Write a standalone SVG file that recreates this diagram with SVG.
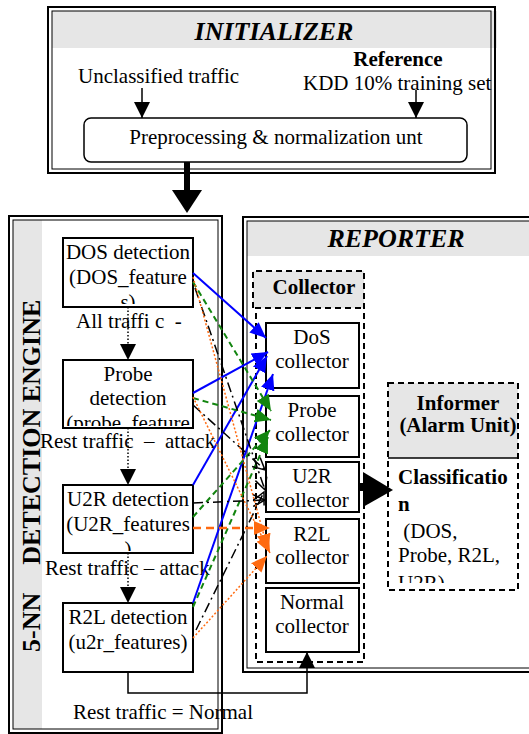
<svg xmlns="http://www.w3.org/2000/svg" width="529" height="734" viewBox="0 0 529 734">
  <style>
    text { font-family: "Liberation Serif", "Times New Roman", serif; fill: #000; }
    .t { font-size: 21px; }
    .tc { font-size: 21px; text-anchor: middle; }
    .b { font-weight: bold; }
    .title { font-size: 26px; font-weight: bold; font-style: italic; text-anchor: middle; }
    .frameO { fill: none; stroke: #000; stroke-width: 2; }
    .frameI { fill: none; stroke: #000; stroke-width: 1; }
    .band { fill: #e6e6e6; stroke: none; }
    .box { fill: #fff; stroke: #000; stroke-width: 2; }
    .dash { fill: none; stroke: #000; stroke-width: 2; stroke-dasharray: 6 4; }
    .flow { fill: none; stroke: #000; stroke-width: 1.5; stroke-dasharray: 1.5 2; }
    .solid { fill: none; stroke: #000; stroke-width: 1.5; }
    .blue { fill: none; stroke: #0000ff; stroke-width: 2; }
    .green { fill: none; stroke: #12850f; stroke-width: 2; stroke-dasharray: 6 4; }
    .dd { fill: none; stroke: #000; stroke-width: 1.5; stroke-dasharray: 10 4 2 4; }
    .orange { fill: none; stroke: #ff6a10; stroke-width: 1.5; stroke-dasharray: 2 2; }
    .orangeD { fill: none; stroke: #ff6a10; stroke-width: 2.5; stroke-dasharray: 8 5; }
  </style>
  <defs>
    <marker id="hBlack" markerUnits="userSpaceOnUse" markerWidth="16" markerHeight="16" refX="16" refY="8" orient="auto">
      <path d="M0,0 L16,8 L0,16 Z" fill="#000"/>
    </marker>
    <marker id="hBlue" markerUnits="userSpaceOnUse" markerWidth="16" markerHeight="16" refX="16" refY="8" orient="auto">
      <path d="M0,1 L16,8 L0,15 Z" fill="#0000ff"/>
    </marker>
    <marker id="hGreen" markerUnits="userSpaceOnUse" markerWidth="16" markerHeight="16" refX="16" refY="8" orient="auto">
      <path d="M0,1 L16,8 L0,15 Z" fill="#12850f"/>
    </marker>
    <marker id="hOrange" markerUnits="userSpaceOnUse" markerWidth="16" markerHeight="16" refX="16" refY="8" orient="auto">
      <path d="M0,1 L16,8 L0,15 Z" fill="#ff6a10"/>
    </marker>
    <marker id="hOpen" markerUnits="userSpaceOnUse" markerWidth="14" markerHeight="14" refX="13" refY="7" orient="auto">
      <path d="M1,1 L13,7 L1,13" fill="none" stroke="#000" stroke-width="1.5"/>
    </marker>
    <clipPath id="cDos"><rect x="63" y="238" width="130" height="66"/></clipPath>
    <clipPath id="cProbe"><rect x="63" y="360" width="130" height="66"/></clipPath>
    <clipPath id="cU2r"><rect x="63" y="485" width="130" height="66"/></clipPath>
    <clipPath id="cClass"><rect x="388" y="458" width="130" height="125"/></clipPath>
  </defs>

  <!-- initializer stage -->
  <g id="initializer">
    <rect class="band" x="52" y="11" width="445" height="37"/>
    <rect class="frameO" x="48" y="7" width="447" height="166"/>
    <rect class="frameI" x="52" y="11" width="439" height="158"/>
    <text class="title" x="274" y="40">INITIALIZER</text>
    <text class="t b" x="398" y="66" text-anchor="middle">Reference</text>
    <text class="t" x="78" y="83">Unclassified traffic</text>
    <text class="t" x="303" y="90">KDD 10% training set</text>
  </g>

  <g id="preprocessing">
    <rect x="84" y="118" width="383" height="44" rx="7" fill="#fff" stroke="#000" stroke-width="1.5"/>
    <text class="tc" x="276" y="144">Preprocessing &amp; normalization unt</text>
  </g>

  <!-- detection engine -->
  <g id="engine">
    <rect fill="#fff" x="13" y="220" width="205" height="509"/>
    <rect class="band" x="13" y="220" width="29" height="509"/>
    <rect class="frameO" x="9" y="216" width="213" height="517"/>
    <rect class="frameI" x="13" y="220" width="205" height="509"/>
    <text class="b" font-size="26" transform="translate(40,652) rotate(-90)">5-NN<tspan dx="28">DETECTION ENGINE</tspan></text>
  </g>

  <g id="dos-detection">
    <rect class="box" x="63" y="238" width="130" height="69"/>
    <g clip-path="url(#cDos)">
      <text class="tc" x="128" y="259">DOS detection</text>
      <text class="tc" x="128" y="284">(DOS_feature</text>
      <text class="tc" x="128" y="309">s)</text>
    </g>
  </g>

  <g id="probe-detection">
    <rect class="box" x="63" y="360" width="130" height="68"/>
    <g clip-path="url(#cProbe)">
      <text class="tc" x="128" y="381">Probe</text>
      <text class="tc" x="128" y="405">detection</text>
      <text class="tc" x="128" y="430">(probe_feature</text>
    </g>
  </g>

  <g id="u2r-detection">
    <rect class="box" x="63" y="485" width="130" height="68"/>
    <g clip-path="url(#cU2r)">
      <text class="tc" x="128" y="506">U2R detection</text>
      <text class="tc" x="128" y="531">(U2R_features</text>
      <text class="tc" x="128" y="556">)</text>
    </g>
  </g>

  <g id="r2l-detection">
    <rect class="box" x="63" y="603" width="130" height="69"/>
    <text class="tc" x="128" y="624">R2L detection</text>
    <text class="tc" x="128" y="649">(u2r_features)</text>
  </g>

  <!-- reporter stage -->
  <g id="reporter">
    <rect fill="#fff" x="247" y="221" width="290" height="447"/>
    <rect class="band" x="247" y="221" width="290" height="35"/>
    <rect class="frameO" x="243" y="217" width="300" height="455"/>
    <rect class="frameI" x="247" y="221" width="292" height="447"/>
    <text class="title" font-size="25" x="396" y="247">REPORTER</text>
  </g>

  <g id="collector">
    <rect x="253" y="271" width="111" height="37" fill="#e6e6e6" stroke="none"/>
    <path class="dash" d="M253,308 L253,271 L364,271 L364,662 L256,662 L256,308 L364,308"/>
    <text class="t b" x="314" y="294" text-anchor="middle" font-size="20">Collector</text>
  </g>

  <g id="dos-collector">
    <rect class="box" x="266" y="323" width="93" height="65"/>
    <text class="tc" x="312" y="344">DoS</text>
    <text class="tc" x="312" y="368">collector</text>
  </g>
  <g id="probe-collector">
    <rect class="box" x="266" y="396" width="93" height="61"/>
    <text class="tc" x="312" y="417">Probe</text>
    <text class="tc" x="312" y="441">collector</text>
  </g>
  <g id="u2r-collector">
    <rect class="box" x="266" y="462" width="93" height="50"/>
    <text class="tc" x="312" y="483">U2R</text>
    <text class="tc" x="312" y="507">collector</text>
  </g>
  <g id="r2l-collector">
    <rect class="box" x="266" y="519" width="93" height="64"/>
    <text class="tc" x="312" y="541">R2L</text>
    <text class="tc" x="312" y="564">collector</text>
  </g>
  <g id="normal-collector">
    <rect class="box" x="266" y="588" width="93" height="64"/>
    <text class="tc" x="312" y="609">Normal</text>
    <text class="tc" x="312" y="633">collector</text>
  </g>

  <g id="informer">
    <rect x="388" y="383" width="130" height="75" fill="#e6e6e6" stroke="none"/>
    <rect class="dash" x="388" y="383" width="130" height="207"/>
    <line x1="388" y1="458" x2="518" y2="458" stroke="#000" stroke-width="1.5"/>
    <text class="tc b" font-size="20" x="458" y="410">Informer</text>
    <text class="tc b" font-size="20" x="458" y="432">(Alarm Unit)</text>
    <g clip-path="url(#cClass)">
      <text class="t b" x="398" y="484">Classificatio</text>
      <text class="t b" x="398" y="511">n</text>
      <text class="t" x="398" y="538" xml:space="preserve"> (DOS,</text>
      <text class="t" x="398" y="562">Probe, R2L,</text>
      <text class="t" x="398" y="590">U2R)</text>
    </g>
  </g>

  <!-- flow labels -->
  <g id="labels">
    <text class="t" x="76" y="328" xml:space="preserve">All traffi c  -</text>
    <text class="t" x="40" y="448" xml:space="preserve">Rest traffic  –  attack</text>
    <text class="t" x="45" y="575">Rest traffic – attack</text>
    <text class="t" x="73" y="719">Rest traffic = Normal</text>
  </g>

  <!-- connectors -->
  <g id="connectors">
    <line class="solid" x1="142" y1="88" x2="142" y2="118" marker-end="url(#hBlack)"/>
    <line class="solid" x1="416" y1="90" x2="416" y2="118" marker-end="url(#hBlack)"/>
    <line x1="187" y1="162" x2="187" y2="192" stroke="#000" stroke-width="6"/>
    <path d="M172,190 L202,190 L187,213 Z" fill="#000"/>

    <line class="flow" x1="128" y1="307" x2="128" y2="360" marker-end="url(#hBlack)"/>
    <line class="flow" x1="128" y1="428" x2="128" y2="485" marker-end="url(#hBlack)"/>
    <line class="flow" x1="128" y1="553" x2="128" y2="603" marker-end="url(#hBlack)"/>
    <path class="solid" d="M128,672 L128,693 L307,693 L307,652" marker-end="url(#hBlack)"/>

    <line class="blue" x1="193" y1="273" x2="266" y2="338" marker-end="url(#hBlue)"/>
    <line class="blue" x1="193" y1="393" x2="268" y2="352" marker-end="url(#hBlue)"/>
    <line class="blue" x1="193" y1="485" x2="267" y2="356" marker-end="url(#hBlue)"/>
    <line class="blue" x1="193" y1="603" x2="273" y2="374" marker-end="url(#hBlue)"/>

    <line class="green" x1="193" y1="282" x2="271" y2="411" marker-end="url(#hGreen)"/>
    <line class="green" x1="193" y1="398" x2="271" y2="420" marker-end="url(#hGreen)"/>
    <line class="green" x1="193" y1="517" x2="270" y2="430" marker-end="url(#hGreen)"/>
    <line class="green" x1="193" y1="607" x2="268" y2="437" marker-end="url(#hGreen)"/>

    <line class="dd" x1="195" y1="288" x2="265" y2="490" marker-end="url(#hOpen)"/>
    <line class="dd" x1="193" y1="405" x2="265" y2="470" marker-end="url(#hOpen)"/>
    <line class="dd" x1="193" y1="503" x2="265" y2="500" marker-end="url(#hOpen)"/>
    <line class="dd" x1="196" y1="630" x2="264" y2="492" marker-end="url(#hOpen)"/>

    <line class="orange" x1="193" y1="277" x2="268" y2="550" marker-end="url(#hOrange)"/>
    <line class="orange" x1="193" y1="397" x2="270" y2="553" marker-end="url(#hOrange)"/>
    <line class="orangeD" x1="193" y1="528" x2="270" y2="528" marker-end="url(#hOrange)"/>
    <line class="orange" x1="193" y1="638" x2="267" y2="556" marker-end="url(#hOrange)"/>

    <rect x="359" y="483" width="7" height="8" fill="#000"/>
    <path d="M363,472 L393,490 L363,507 Z" fill="#000"/>
  </g>
</svg>
